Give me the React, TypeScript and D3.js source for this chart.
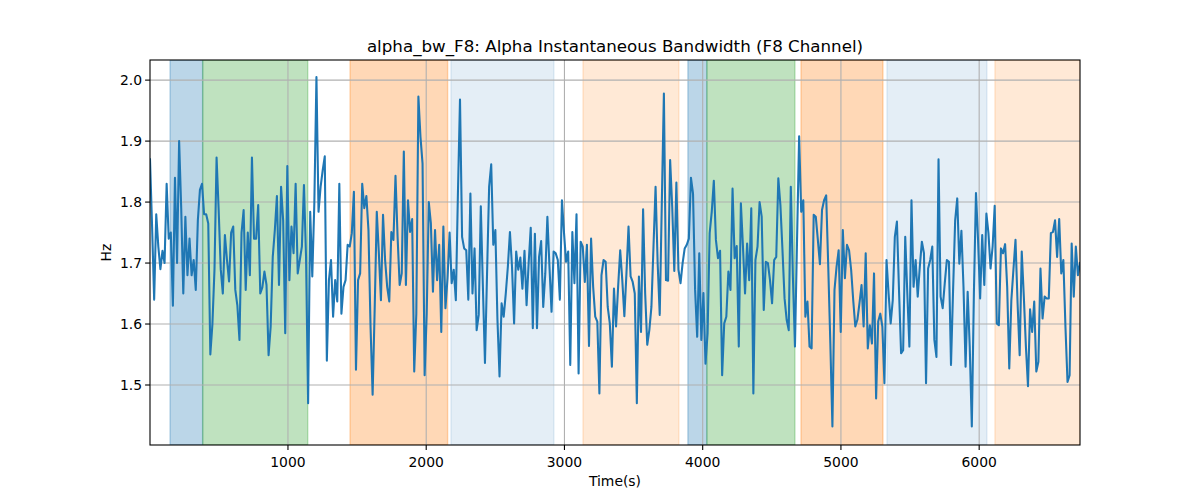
import React, { useEffect } from "react";
import * as d3 from "d3";

const TITLE = "alpha_bw_F8: Alpha Instantaneous Bandwidth (F8 Channel)";
const X_LABEL = "Time(s)";
const Y_LABEL = "Hz";
const T_START = 2;
const T_STEP = 15.05;
const X_TICKS = [1000, 2000, 3000, 4000, 5000, 6000];
const Y_TICKS = [1.5, 1.6, 1.7, 1.8, 1.9, 2.0];
const Y_DOMAIN = [1.4016, 2.033];

const VALUES: number[] = [
  // segment 1
  1.87, 1.76, 1.64, 1.78, 1.727, 1.69, 1.72, 1.70, 1.83, 1.74, 1.75, 1.63,
  1.84, 1.70, 1.90, 1.79, 1.65, 1.776, 1.68, 1.74, 1.68, 1.705,
  1.656, 1.77, 1.82, 1.83, 1.78, 1.78, 1.765, 1.55, 1.60, 1.69,
  1.873, 1.787, 1.69, 1.65, 1.746, 1.705, 1.67, 1.75, 1.76, 1.656,
  1.63, 1.574, 1.75, 1.787, 1.656, 1.75, 1.68, 1.873, 1.74, 1.74,
  1.795, 1.65, 1.66, 1.686,
  // segment 2
  1.664, 1.549, 1.596, 1.71, 1.754, 1.81, 1.664, 1.825, 1.77, 1.585,
  1.859, 1.672, 1.76, 1.716, 1.83, 1.683, 1.705, 1.727, 1.828, 1.71,
  1.47, 1.784, 1.678, 1.80, 2.005, 1.784, 1.825, 1.852, 1.875, 1.54,
  1.672, 1.705, 1.612, 1.672, 1.637, 1.83, 1.617, 1.661, 1.672, 1.73,
  1.727, 1.749, 1.817, 1.525, 1.672, 1.683, 1.83, 1.79, 1.81, 1.754,
  1.596, 1.484, 1.626, 1.784, 1.716,
  // segment 3
  1.639, 1.779, 1.705, 1.661, 1.637, 1.751, 1.738, 1.843, 1.743, 1.664,
  1.683, 1.883, 1.664, 1.803, 1.751, 1.772, 1.522, 1.617, 1.973, 1.907,
  1.863, 1.516, 1.617, 1.80, 1.765, 1.653, 1.754, 1.672, 1.73, 1.587,
  1.76, 1.626, 1.675, 1.75, 1.667, 1.689, 1.639, 1.814, 1.968, 1.743,
  1.724, 1.721, 1.64, 1.814, 1.65, 1.724, 1.59, 1.615, 1.793, 1.661,
  1.536, 1.683, 1.825, 1.862, 1.73, 1.754,
  // segment 4
  1.607, 1.514, 1.634, 1.612, 1.65, 1.694, 1.751, 1.694, 1.601, 1.719,
  1.689, 1.709, 1.658, 1.72, 1.631, 1.70, 1.758, 1.593, 1.748, 1.593,
  1.71, 1.736, 1.628, 1.683, 1.776, 1.694, 1.62, 1.719, 1.716, 1.705,
  1.64, 1.803, 1.749, 1.702, 1.719, 1.533, 1.751, 1.667, 1.78, 1.519,
  1.735, 1.727, 1.669, 1.73, 1.564, 1.74, 1.661, 1.612, 1.604, 1.486,
  1.68, 1.705, 1.702, 1.628, 1.601,
  // segment 5
  1.53, 1.658, 1.596, 1.661, 1.721, 1.672, 1.613, 1.683, 1.76, 1.678,
  1.669, 1.65, 1.47, 1.678, 1.587, 1.788, 1.65, 1.566, 1.59, 1.628,
  1.727, 1.825, 1.70, 1.615, 1.798, 1.978, 1.672, 1.671, 1.869, 1.792,
  1.687, 1.832, 1.689, 1.667, 1.70, 1.724, 1.73, 1.74, 1.84, 1.814,
  1.656, 1.579, 1.716, 1.574, 1.651, 1.535, 1.585, 1.749, 1.784, 1.835,
  1.738, 1.708, 1.72, 1.516, 1.601,
  // segment 6
  1.612, 1.686, 1.656, 1.822, 1.708, 1.728, 1.563, 1.798, 1.727, 1.65,
  1.732, 1.672, 1.79, 1.486, 1.705, 1.727, 1.80, 1.776, 1.623, 1.702,
  1.70, 1.672, 1.634, 1.705, 1.71, 1.839, 1.795, 1.721, 1.642, 1.607,
  1.59, 1.825, 1.678, 1.563, 1.738, 1.908, 1.784, 1.803, 1.612, 1.637,
  1.563, 1.56, 1.779, 1.776, 1.738, 1.698, 1.787, 1.803, 1.811, 1.694,
  1.568, 1.432, 1.656, 1.694, 1.721,
  // segment 7
  1.587, 1.754, 1.675, 1.73, 1.721, 1.689, 1.639, 1.596, 1.607, 1.634,
  1.664, 1.596, 1.716, 1.56, 1.598, 1.568, 1.683, 1.478, 1.604, 1.617,
  1.596, 1.503, 1.705, 1.65, 1.601, 1.639, 1.743, 1.768, 1.656, 1.552,
  1.557, 1.743, 1.65, 1.563, 1.803, 1.661, 1.705, 1.645, 1.694, 1.735,
  1.716, 1.503, 1.691, 1.705, 1.727, 1.574, 1.546, 1.87, 1.645, 1.626,
  1.667, 1.705, 1.702, 1.533, 1.656, 1.77,
  // segment 8
  1.806, 1.699, 1.753, 1.661, 1.53, 1.653, 1.563, 1.432, 1.65, 1.815,
  1.738, 1.642, 1.746, 1.664, 1.781, 1.749, 1.691, 1.727, 1.794, 1.601,
  1.598, 1.724, 1.716, 1.731, 1.661, 1.527, 1.639, 1.689, 1.738, 1.634,
  1.549, 1.719, 1.645, 1.563, 1.498, 1.624, 1.587, 1.637, 1.522, 1.538,
  1.691, 1.609, 1.645, 1.642, 1.642, 1.749, 1.751, 1.77, 1.71, 1.772,
  1.683, 1.705, 1.596, 1.505, 1.516, 1.732, 1.645, 1.727, 1.68, 1.70,
];

const TIMES: number[] = VALUES.map((_, i) => T_START + i * T_STEP);

// shaded intervals [start, end, kind]
const SPAN_STARTS = [147, 383, 1449, 2179, 3134, 3893, 4030, 4711, 5333, 6114];
const SPAN_ENDS = [383, 1143, 2155, 2924, 3828, 4030, 4667, 5304, 6056, 6729];
const SPAN_KINDS = ["blue", "green", "orange", "lightblue", "lightorange", "blue", "green", "orange", "lightblue", "lightorange"];

const SPAN_STYLE: Record<string, { color: string; alpha: number }> = {
  blue: { color: "#1f77b4", alpha: 0.3 },
  green: { color: "#2ca02c", alpha: 0.3 },
  orange: { color: "#ff7f0e", alpha: 0.3 },
  lightblue: { color: "#1f77b4", alpha: 0.12 },
  lightorange: { color: "#ff7f0e", alpha: 0.17 },
};

const W = 1200;
const H = 500;
const M = { left: 150, right: 1080, top: 60, bottom: 445 };
const FONT = "'DejaVu Sans', sans-serif";

export default function App() {
  useEffect(() => {
    document.body.style.margin = "0";
  }, []);

  const x = d3.scaleLinear().domain([TIMES[0], TIMES[TIMES.length - 1]]).range([M.left, M.right]);
  const y = d3.scaleLinear().domain(Y_DOMAIN).range([M.bottom, M.top]);
  const line = d3
    .line<number>()
    .x((_, i) => x(TIMES[i]))
    .y((d) => y(d));

  return (
    <svg width={W} height={H} style={{ display: "block", background: "#fff" }} fontFamily={FONT}>
      <defs>
        <clipPath id="plotclip">
          <rect x={M.left} y={M.top} width={M.right - M.left} height={M.bottom - M.top} />
        </clipPath>
      </defs>
      <g clipPath="url(#plotclip)">
        {SPAN_STARTS.map((s, i) => {
          const st = SPAN_STYLE[SPAN_KINDS[i]];
          return (
            <rect
              key={i}
              x={x(s)}
              y={M.top}
              width={x(SPAN_ENDS[i]) - x(s)}
              height={M.bottom - M.top}
              fill={st.color}
              fillOpacity={st.alpha}
              stroke={st.color}
              strokeOpacity={st.alpha}
              strokeWidth={1.4}
            />
          );
        })}
        {X_TICKS.map((t) => (
          <line key={"gx" + t} x1={x(t)} x2={x(t)} y1={M.top} y2={M.bottom} stroke="#b0b0b0" strokeWidth={1.1} />
        ))}
        {Y_TICKS.map((t) => (
          <line key={"gy" + t} x1={M.left} x2={M.right} y1={y(t)} y2={y(t)} stroke="#b0b0b0" strokeWidth={1.1} />
        ))}
        <path d={line(VALUES) || ""} fill="none" stroke="#1f77b4" strokeWidth={2.08} strokeLinejoin="round" strokeLinecap="square" />
      </g>
      <rect x={M.left} y={M.top} width={M.right - M.left} height={M.bottom - M.top} fill="none" stroke="#000" strokeWidth={1.1} />
      {X_TICKS.map((t) => (
        <g key={"xt" + t}>
          <line x1={x(t)} x2={x(t)} y1={M.bottom} y2={M.bottom + 4.9} stroke="#000" strokeWidth={1.1} />
          <text x={x(t)} y={M.bottom + 22} textAnchor="middle" fontSize={13.9} fill="#000">
            {t}
          </text>
        </g>
      ))}
      {Y_TICKS.map((t) => (
        <g key={"yt" + t}>
          <line x1={M.left - 4.9} x2={M.left} y1={y(t)} y2={y(t)} stroke="#000" strokeWidth={1.1} />
          <text x={M.left - 8} y={y(t)} dy="0.35em" textAnchor="end" fontSize={13.9} fill="#000">
            {d3.format(".1f")(t)}
          </text>
        </g>
      ))}
      <text x={(M.left + M.right) / 2} y={486} textAnchor="middle" fontSize={13.9} fill="#000">
        {X_LABEL}
      </text>
      <text transform={`translate(111,${(M.top + M.bottom) / 2}) rotate(-90)`} textAnchor="middle" fontSize={13.9} fill="#000">
        {Y_LABEL}
      </text>
      <text x={(M.left + M.right) / 2} y={52} textAnchor="middle" fontSize={16.7} fill="#000">
        {TITLE}
      </text>
    </svg>
  );
}
